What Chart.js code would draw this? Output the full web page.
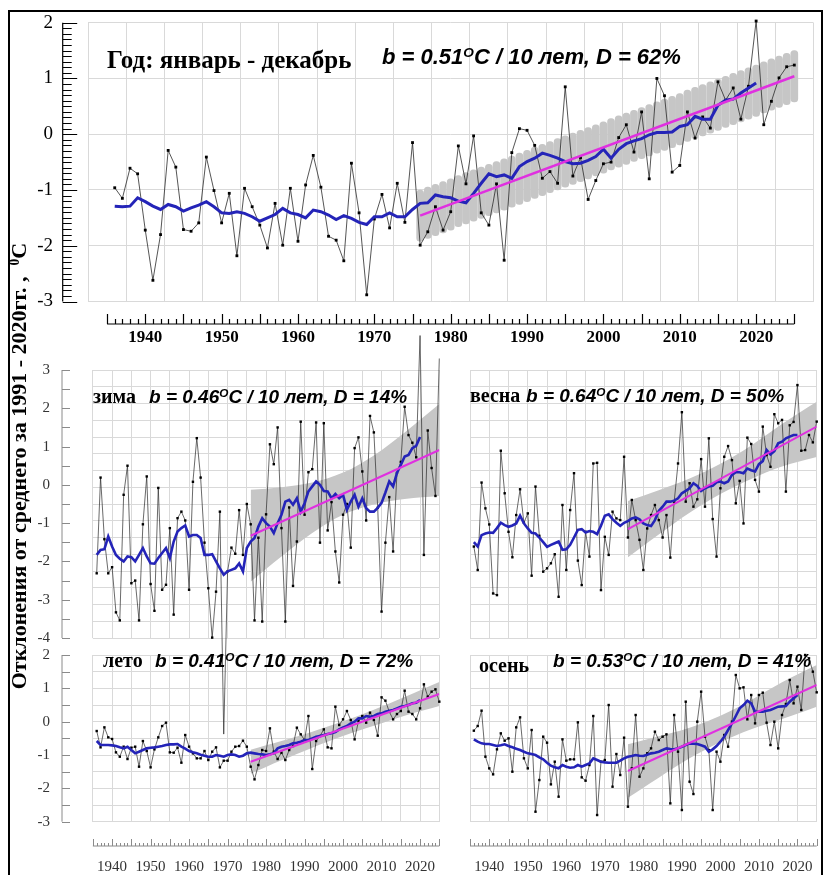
<!DOCTYPE html>
<html><head><meta charset="utf-8">
<script src="https://cdn.jsdelivr.net/npm/chart.js@4.4.1/dist/chart.umd.min.js"></script>
<style>
html,body{margin:0;padding:0;background:#fff}
#wrap{position:relative;width:824px;height:875px;overflow:hidden;background:#fff}
canvas{position:absolute}
.t{position:absolute;white-space:nowrap;line-height:1;color:#000;z-index:10}
.ser{font-family:"Liberation Serif","Times New Roman",serif;font-weight:bold}
.it{font-family:"Liberation Sans",Arial,sans-serif;font-weight:bold;font-style:italic}
.sup{font-size:0.62em;position:relative;top:-0.55em}
#frame{position:absolute;left:8px;top:10px;width:815px;height:880px;border:2px solid #000;box-sizing:border-box;z-index:20}
#ytitle{position:absolute;left:19px;top:466px;transform:translate(-50%,-50%) rotate(-90deg);white-space:nowrap;line-height:1;font-size:22px;z-index:10}
</style></head><body>
<div id="wrap">
<canvas id="cTop" width="824" height="350" style="left:0;top:0;z-index:1"></canvas>
<canvas id="cSummer" width="450" height="230" style="left:0;top:645px;z-index:2"></canvas>
<canvas id="cAutumn" width="374" height="230" style="left:450px;top:645px;z-index:2"></canvas>
<canvas id="cSpring" width="374" height="430" style="left:450px;top:320px;z-index:3"></canvas>
<canvas id="cWinter" width="450" height="430" style="left:0;top:320px;z-index:4"></canvas>

<div class="t ser" style="left:107px;top:47px;font-size:25px">Год: январь - декабрь</div>
<div class="t it" style="left:382px;top:46px;font-size:22px">b = 0.51<span class="sup">O</span>C / 10 лет, D = 62%</div>

<div class="t ser" style="left:93px;top:386px;font-size:20px">зима</div>
<div class="t it" style="left:149px;top:387px;font-size:19px">b = 0.46<span class="sup">O</span>C / 10 лет, D = 14%</div>

<div class="t ser" style="left:470px;top:385px;font-size:20px">весна</div>
<div class="t it" style="left:526px;top:386px;font-size:19px">b = 0.64<span class="sup">O</span>C / 10 лет, D = 50%</div>

<div class="t ser" style="left:103px;top:650px;font-size:20px">лето</div>
<div class="t it" style="left:155px;top:651px;font-size:19px">b = 0.41<span class="sup">O</span>C / 10 лет, D = 72%</div>

<div class="t ser" style="left:479px;top:655px;font-size:20px">осень</div>
<div class="t it" style="left:553px;top:651px;font-size:19px">b = 0.53<span class="sup">O</span>C / 10 лет, D = 41%</div>

<div id="ytitle" class="ser">Отклонения от среднего за 1991 - 2020гг. , &nbsp;<span class="sup">0</span>С</div>
<div id="frame"></div>
</div>
<script>
// ---------- data ----------
const years = [1936,1937,1938,1939,1940,1941,1942,1943,1944,1945,
 1946,1947,1948,1949,1950,1951,1952,1953,1954,1955,
 1956,1957,1958,1959,1960,1961,1962,1963,1964,1965,
 1966,1967,1968,1969,1970,1971,1972,1973,1974,1975,
 1976,1977,1978,1979,1980,1981,1982,1983,1984,1985,
 1986,1987,1988,1989,1990,1991,1992,1993,1994,1995,
 1996,1997,1998,1999,2000,2001,2002,2003,2004,2005,
 2006,2007,2008,2009,2010,2011,2012,2013,2014,2015,
 2016,2017,2018,2019,2020,2021,2022,2023,2024,2025];
const smoothYears = [1936,1937,1938,1939,1940,1941,1942,1943,1944,1945,
 1946,1947,1948,1949,1950,1951,1952,1953,1954,1955,
 1956,1957,1958,1959,1960,1961,1962,1963,1964,1965,
 1966,1967,1968,1969,1970,1971,1972,1973,1974,1975,
 1976,1977,1978,1979,1980,1981,1982,1983,1984,1985,
 1986,1987,1988,1989,1990,1991,1992,1993,1994,1995,
 1996,1997,1998,1999,2000,2001,2002,2003,2004,2005,
 2006,2007,2008,2009,2010,2011,2012,2013,2014,2015,
 2016,2017,2018,2019,2020];
const trendYears = [1976, 2025];
const pillYears = [1976,1977,1978,1979,1980,1981,1982,1983,1984,1985,
 1986,1987,1988,1989,1990,1991,1992,1993,1994,1995,
 1996,1997,1998,1999,2000,2001,2002,2003,2004,2005,
 2006,2007,2008,2009,2010,2011,2012,2013,2014,2015,
 2016,2017,2018,2019,2020,2021,2022,2023,2024,2025];
const bandYears = [1976, 1984, 1992, 2000, 2008, 2016, 2025];
const gridYears = [1935,1940,1945,1950,1955,1960,1965,1970,1975,1980,1985,1990,1995,2000,2005,2010,2015,2020,2025];
const xTickLabels = [1940,1950,1960,1970,1980,1990,2000,2010,2020];
const topYTicks = [-3,-2,-1,0,1,2];
const winterYTicks = [-4,-3,-2,-1,0,1,2,3];

// Year (January - December)
const yearAnom = [-0.96,-1.15,-0.61,-0.71,-1.72,-2.62,-1.80,-0.29,-0.59,-1.71,
 -1.74,-1.59,-0.41,-1.01,-1.59,-1.06,-2.18,-0.97,-1.30,-1.63,
 -2.04,-1.24,-1.99,-0.97,-1.92,-0.91,-0.38,-0.95,-1.83,-1.90,
 -2.27,-0.52,-1.41,-2.88,-1.52,-1.08,-1.68,-0.88,-1.58,-0.15,
 -1.99,-1.75,-1.30,-1.72,-1.39,-0.21,-0.89,-0.03,-1.41,-1.63,
 -0.89,-2.26,-0.33,0.10,0.07,-0.20,-0.79,-0.67,-0.88,0.85,
 -0.75,-0.42,-1.17,-0.83,-0.53,-0.50,-0.06,0.17,-0.32,0.40,
 -0.80,1.00,0.69,-0.68,-0.56,0.40,-0.07,0.31,0.11,0.94,
 0.61,0.83,0.27,0.86,2.03,0.17,0.59,1.01,1.21,1.24];
const yearSmooth = [-1.29,-1.30,-1.29,-1.14,-1.21,-1.29,-1.35,-1.26,-1.30,-1.38,
 -1.32,-1.27,-1.21,-1.30,-1.41,-1.42,-1.39,-1.42,-1.48,-1.56,
 -1.50,-1.44,-1.33,-1.41,-1.44,-1.50,-1.36,-1.39,-1.45,-1.53,
 -1.46,-1.51,-1.58,-1.62,-1.48,-1.48,-1.41,-1.48,-1.48,-1.35,
 -1.24,-1.23,-1.09,-1.12,-1.14,-1.20,-1.23,-1.06,-0.88,-0.71,
 -0.76,-0.73,-0.79,-0.58,-0.49,-0.43,-0.34,-0.38,-0.43,-0.49,
 -0.53,-0.52,-0.47,-0.40,-0.27,-0.43,-0.27,-0.17,-0.12,-0.08,
 -0.01,0.03,0.03,0.04,0.14,0.17,0.32,0.27,0.27,0.52,
 0.61,0.63,0.74,0.83,0.92];
const yearTrend = [-1.46, 1.04];
const yearBandLow = [-1.92,-1.87,-1.82,-1.77,-1.72,-1.66,-1.61,-1.56,-1.51,-1.46,
 -1.41,-1.36,-1.31,-1.26,-1.21,-1.15,-1.10,-1.05,-1.00,-0.95,
 -0.90,-0.85,-0.80,-0.75,-0.70,-0.64,-0.59,-0.54,-0.49,-0.44,
 -0.39,-0.34,-0.29,-0.24,-0.19,-0.13,-0.08,-0.03,0.02,0.07,
 0.12,0.17,0.22,0.27,0.32,0.38,0.43,0.48,0.53,0.58];
const yearBandHigh = [-1.00,-0.95,-0.90,-0.85,-0.80,-0.74,-0.69,-0.64,-0.59,-0.54,
 -0.49,-0.44,-0.39,-0.34,-0.29,-0.23,-0.18,-0.13,-0.08,-0.03,
 0.02,0.07,0.12,0.17,0.22,0.28,0.33,0.38,0.43,0.48,
 0.53,0.58,0.63,0.68,0.73,0.79,0.84,0.89,0.94,0.99,
 1.04,1.09,1.14,1.19,1.24,1.30,1.35,1.40,1.45,1.50];

// Winter
const winterAnom = [-2.31,0.19,-1.42,-2.31,-2.15,-3.33,-3.54,-0.26,0.50,-2.57,
 -2.50,-3.54,-1.03,0.22,-2.59,-3.29,-0.08,-2.74,-2.61,-1.13,
 -3.39,-0.87,-0.70,-0.93,-2.74,0.08,1.22,0.19,-1.51,-2.70,
 -3.99,-2.79,-0.70,-6.51,-2.26,-1.64,-1.80,-0.66,-1.83,-0.50,
 -1.03,-3.54,-1.38,-3.57,-0.77,1.06,0.54,1.50,-1.13,-3.57,
 -0.59,-2.64,-1.48,1.65,-0.78,0.33,0.41,1.63,-1.51,1.61,
 -1.19,-0.45,-1.74,-2.55,-0.78,-0.50,-1.64,0.96,1.24,0.35,
 -0.93,1.80,1.37,-0.60,-3.31,-1.51,-0.32,-1.74,0.31,0.60,
 2.04,1.30,1.10,0.72,3.90,-1.83,1.42,0.44,-0.29,3.30];
const winterSmooth = [-1.83,-1.70,-1.68,-1.35,-1.61,-1.83,-1.93,-2.00,-1.87,-1.89,
 -2.00,-1.83,-1.65,-1.87,-2.05,-2.06,-1.91,-1.78,-1.65,-1.91,
 -1.48,-1.22,-1.13,-1.06,-1.35,-1.31,-1.31,-1.39,-1.83,-1.83,
 -1.81,-2.00,-2.18,-2.35,-2.26,-2.22,-2.18,-2.05,-2.26,-1.65,
 -1.48,-1.39,-1.09,-0.87,-1.00,-1.09,-1.26,-1.00,-0.78,-0.44,
 -0.39,-0.52,-0.35,-0.70,-0.48,-0.17,-0.04,0.09,0.00,-0.16,
 -0.17,-0.35,-0.24,-0.35,-0.26,-0.65,-0.44,-0.26,-0.57,-0.35,
 -0.61,-0.70,-0.70,-0.60,-0.47,-0.20,0.09,-0.04,0.31,0.52,
 0.74,0.78,0.96,1.02,1.25];
const winterTrend = [-1.33, 0.91];
const winterBandHigh = [-0.13,-0.06,0.06,0.32,0.77,1.37,2.11];
const winterBandLow = [-2.53,-1.87,-1.26,-0.78,-0.51,-0.37,-0.29];

// Spring
const springAnom = [-2.27,-2.97,-0.36,-1.13,-1.61,-3.67,-3.72,0.59,-0.68,-1.83,
 -2.59,-1.33,-0.56,-1.56,-1.28,-3.14,-0.48,-1.95,-3.02,-2.92,
 -2.77,-2.50,-3.77,-1.03,-2.97,-1.18,-0.08,-2.69,-3.42,-1.83,
 -2.57,0.21,0.23,-3.57,-1.98,-2.52,-1.23,-1.43,-1.48,0.41,
 -2.00,-0.88,-1.48,-2.07,-2.97,-1.73,-1.33,-1.03,-1.48,-2.00,
 -1.33,-2.60,-0.93,0.21,1.74,-0.93,-0.38,-1.08,-0.86,0.34,
 -1.08,0.96,-1.45,-2.57,-0.53,0.41,0.73,0.31,-0.98,-0.31,
 -1.58,0.98,0.79,-0.28,-0.63,1.31,0.46,0.11,1.68,1.41,
 1.51,-0.63,1.35,1.45,2.55,0.59,0.61,1.06,0.84,1.46];
const springSmooth = [-2.14,-2.27,-1.93,-1.88,-1.85,-1.86,-1.72,-1.56,-1.63,-1.68,
 -1.64,-1.58,-1.35,-1.58,-1.73,-1.86,-1.88,-2.00,-2.14,-2.28,
 -2.22,-2.17,-2.12,-2.37,-2.35,-2.22,-2.00,-1.77,-1.75,-1.85,
 -1.81,-1.83,-1.90,-1.65,-1.35,-1.31,-1.45,-1.56,-1.65,-1.56,
 -1.51,-1.43,-1.40,-1.46,-1.58,-1.63,-1.66,-1.48,-1.21,-1.08,
 -0.93,-0.93,-0.90,-0.83,-0.68,-0.61,-0.53,-0.38,-0.46,-0.61,
 -0.53,-0.48,-0.46,-0.35,-0.33,-0.38,-0.33,-0.13,-0.05,-0.05,
 -0.08,0.06,0.01,-0.03,0.19,0.28,0.61,0.48,0.58,0.81,
 0.86,0.96,1.01,1.06,1.06];
const springTrend = [-1.75, 1.31];
const springBandHigh = [-0.91,-0.59,-0.24,0.20,0.75,1.39,2.05];
const springBandLow = [-2.59,-1.91,-1.26,-0.70,-0.25,0.12,0.40];

// Summer
const summerAnom = [-0.28,-0.77,-0.17,-0.47,-0.52,-0.92,-1.05,-0.75,-1.12,-0.78,
 -0.75,-1.35,-0.58,-0.88,-1.37,-0.83,-0.47,-0.13,-0.03,-0.92,
 -0.93,-0.78,-1.23,-0.40,-0.75,-0.95,-1.10,-1.10,-0.88,-1.15,
 -0.90,-0.77,-1.37,-1.17,-1.17,-0.90,-0.75,-0.73,-0.57,-0.75,
 -1.35,-1.73,-1.30,-0.85,-0.88,-0.20,-0.90,-1.12,-0.93,-1.15,
 -0.85,-0.73,-0.18,-0.38,-0.55,0.17,-1.42,-0.58,-0.43,-0.23,
 -0.77,-0.80,0.45,-0.10,0.07,0.32,0.05,-0.53,0.02,0.17,
 -0.03,0.27,0.05,-0.42,0.73,0.63,0.30,0.07,0.23,0.32,
 0.93,0.30,0.23,0.07,0.40,1.12,0.75,0.90,0.97,0.60];
const summerSmooth = [-0.58,-0.70,-0.70,-0.70,-0.71,-0.73,-0.77,-0.80,-0.75,-0.85,
 -0.95,-0.90,-0.85,-0.80,-0.78,-0.77,-0.75,-0.73,-0.70,-0.68,
 -0.68,-0.67,-0.75,-0.81,-0.88,-0.92,-0.95,-0.99,-1.02,-1.05,
 -1.05,-1.00,-1.02,-1.05,-1.00,-0.98,-1.00,-1.05,-1.02,-0.95,
 -0.93,-0.95,-0.97,-0.98,-1.00,-0.98,-0.95,-0.80,-0.75,-0.73,
 -0.70,-0.65,-0.63,-0.60,-0.55,-0.55,-0.50,-0.45,-0.43,-0.40,
 -0.37,-0.35,-0.31,-0.23,-0.17,-0.13,-0.05,0.00,0.10,0.10,
 0.17,0.15,0.17,0.23,0.25,0.30,0.33,0.35,0.40,0.45,
 0.47,0.50,0.55,0.57,0.65];
const summerTrend = [-1.20, 0.83];
const summerBandHigh = [-0.84,-0.58,-0.30,0.01,0.36,0.74,1.19];
const summerBandLow = [-1.56,-1.16,-0.78,-0.43,-0.12,0.18,0.47];

// Autumn
const autumnAnom = [-0.27,-0.13,0.33,-1.05,-1.40,-1.58,-0.83,-0.35,-0.57,-0.50,
 -1.50,-0.17,0.13,-1.10,-1.40,-0.25,-2.70,-1.75,-0.45,-0.63,
 -1.88,-1.20,-2.25,-0.53,-1.17,-1.13,-1.13,-0.02,-1.67,-1.77,
 -1.30,0.17,-2.80,-1.20,-1.15,0.50,-1.95,-0.97,-1.60,-0.48,
 -2.55,-1.40,0.20,-1.65,-1.40,-0.95,-0.80,-0.30,-0.55,-0.45,
 -0.38,-2.45,0.20,-0.90,-2.65,0.60,-1.80,-2.17,0.00,0.90,
 -0.45,-0.85,-2.65,-0.90,-1.20,-0.40,-0.75,0.00,1.40,1.00,
 1.03,0.07,0.80,-0.05,0.80,0.87,-0.03,-0.70,0.00,-0.80,
 0.20,0.53,1.25,0.55,1.05,0.35,2.00,1.90,1.50,0.88];
const autumnSmooth = [-0.53,-0.60,-0.65,-0.67,-0.67,-0.70,-0.73,-0.71,-0.68,-0.73,
 -0.77,-0.81,-0.85,-0.90,-0.95,-0.97,-1.00,-1.07,-1.13,-1.23,
 -1.32,-1.37,-1.40,-1.30,-1.35,-1.38,-1.37,-1.30,-1.35,-1.30,
 -1.25,-1.10,-1.15,-1.20,-1.22,-1.23,-1.23,-1.23,-1.17,-1.10,
 -1.05,-1.03,-1.00,-1.02,-1.03,-0.99,-0.95,-0.93,-0.90,-0.85,
 -0.80,-0.82,-0.83,-0.80,-0.75,-0.70,-0.65,-0.66,-0.67,-0.71,
 -0.75,-0.90,-0.83,-0.73,-0.60,-0.45,-0.25,-0.05,0.17,0.40,
 0.50,0.63,0.55,0.30,0.30,0.30,0.33,0.35,0.40,0.45,
 0.46,0.47,0.60,0.70,0.80];
const autumnTrend = [-1.48, 1.10];
const autumnBandHigh = [-0.68,-0.44,-0.18,0.18,0.65,1.18,1.70];
const autumnBandLow = [-2.28,-1.68,-1.10,-0.62,-0.23,0.08,0.45];

// ---------- drawing ----------
Chart.defaults.font.family = '"Liberation Serif","Times New Roman",serif';
const GRID = '#d9d9d9';
const BLUE = '#2424b8';
const MAGENTA = '#e030e0';
const BAND = '#c6c6c6';
const THIN = '#2a2a2a';
const NONE = 'rgba(0,0,0,0)';
const pts = (xs, ys) => ys.map((y, i) => ({x: xs[i], y}));

function seriesSets(o) {
  const ds = [];
  if (o.pills) {
    ds.push({type:'bar', data: o.pills.years.map((x, i) => ({x, y:[o.pills.low[i], o.pills.high[i]]})),
      backgroundColor:BAND, barThickness:7, borderRadius:4, borderSkipped:false, order:5, yAxisID:'y', clip:false});
  }
  if (o.band) {
    ds.push({type:'line', data: pts(bandYears, o.band.high), fill:'+1', backgroundColor:BAND,
      borderColor:NONE, borderWidth:0, pointRadius:0, tension:0.35, order:5, yAxisID:'y'});
    ds.push({type:'line', data: pts(bandYears, o.band.low), fill:false,
      borderColor:NONE, borderWidth:0, pointRadius:0, tension:0.35, order:6, yAxisID:'y'});
  }
  ds.push({type:'line', data: pts(years, o.anom), borderColor:THIN, borderWidth:o.thin,
    pointStyle:'rect', pointRadius:o.pr, pointBackgroundColor:'#000', pointBorderWidth:0,
    clip:false, order:3, yAxisID:'y'});
  ds.push({type:'line', data: pts(smoothYears, o.smooth), borderColor:BLUE, borderWidth:o.blueW,
    pointRadius:0, order:2, yAxisID:'y'});
  ds.push({type:'line', data: pts(trendYears, o.trend), borderColor:MAGENTA, borderWidth:o.magW,
    pointRadius:0, order:1, yAxisID:'y'});
  return ds;
}

function rulerPlugin(r) {
  return {id:'ruler', afterDraw(chart) {
    const c = chart.ctx; c.save(); c.lineWidth = r.lw; c.strokeStyle = r.color;
    if (r.y) {
      const s = chart.scales.y, a = r.y;
      c.beginPath();
      c.moveTo(a.x, s.getPixelForValue(a.min)); c.lineTo(a.x, s.getPixelForValue(a.max));
      const n = Math.round((a.max - a.min) / a.step);
      for (let i = 0; i <= n; i++) {
        const v = a.min + i * a.step, p = Math.round(s.getPixelForValue(v)) + 0.5;
        const major = Math.abs(v - Math.round(v)) < 1e-6;
        c.moveTo(a.x, p); c.lineTo(a.x + (major ? a.major : a.minor), p);
      }
      c.stroke();
    }
    if (r.x) {
      const s = chart.scales.x, a = r.x;
      c.beginPath();
      c.moveTo(s.getPixelForValue(a.from), a.y); c.lineTo(s.getPixelForValue(a.to), a.y);
      for (let yr = a.from; yr <= a.to; yr++) {
        const p = Math.round(s.getPixelForValue(yr)) + 0.5;
        c.moveTo(p, a.y); c.lineTo(p, a.y - (yr % 5 === 0 ? a.major : a.minor));
      }
      c.stroke();
    }
    c.restore();
  }};
}

// label offsets are made with invisible tick marks (tickLength) so they do not add layout padding
function xScale(o) {
  return {type:'linear', min:1935, max:2025,
    afterBuildTicks: s => { s.ticks = gridYears.map(v => ({value:v})); },
    ticks:{display:o.labels, autoSkip:false, maxRotation:0, minRotation:0, padding:0,
      color:o.color || '#000', font:o.font, callback: v => xTickLabels.includes(v) ? String(v) : ''},
    grid:{color:GRID, lineWidth:1, drawTicks:o.labels, tickLength:o.off || 0, tickColor:NONE},
    border:{display:false},
    afterFit: s => { s.height = o.h; }};
}

function makeChart(id, o) {
  return new Chart(document.getElementById(id), {
    type:'line',
    data:{datasets: seriesSets(o)},
    options:{responsive:false, animation:false, events:[],
      layout:{padding:o.pad},
      plugins:{legend:{display:false}, tooltip:{enabled:false}},
      scales:o.scales},
    plugins:[rulerPlugin(o.ruler)]
  });
}

// Top panel: year
makeChart('cTop', {
  anom:yearAnom, smooth:yearSmooth, trend:yearTrend, thin:0.8, pr:2, blueW:3, magW:2.5,
  pills:{years:pillYears, low:yearBandLow, high:yearBandHigh},
  pad:{top:22.7, right:10.6, left:0, bottom:0},
  scales:{
    x: xScale({labels:true, off:26, h:48.5, color:'#000', font:{size:17, weight:'bold'}}),
    y: {type:'linear', min:-3, max:2,
      afterBuildTicks: s => { s.ticks = topYTicks.map(v => ({value:v})); },
      ticks:{padding:0, color:'#000', font:{size:19}},
      grid:{color:GRID, drawTicks:true, tickLength:35, tickColor:NONE}, border:{display:false},
      afterFit: s => { s.width = 88; }}
  },
  ruler:{lw:1.2, color:'#000', y:{x:62.7, min:-3, max:2, step:0.1, minor:9, major:14.5},
         x:{y:324, from:1935, to:2025, minor:5, major:10}}
});

// Winter
makeChart('cWinter', {
  anom:winterAnom, smooth:winterSmooth, trend:winterTrend, thin:0.7, pr:1.7, blueW:2.6, magW:2,
  band:{high:winterBandHigh, low:winterBandLow},
  pad:{top:50, right:10.7, left:0, bottom:112},
  scales:{
    x: xScale({labels:false, h:0}),
    y: {type:'linear', min:-4, max:3,
      afterBuildTicks: s => { s.ticks = winterYTicks.map(v => ({value:v})); },
      ticks:{padding:0, color:'#333', font:{size:15}},
      grid:{display:true, drawOnChartArea:false, drawTicks:true, tickLength:42.85, tickColor:NONE},
      border:{display:false},
      afterFit: s => { s.width = 92.85; }},
    yg: {type:'linear', position:'right', min:0, max:16, ticks:{display:false, stepSize:1},
      grid:{color:GRID, drawTicks:false}, border:{display:false},
      afterFit: s => { s.width = 0; }}
  },
  ruler:{lw:1, color:'#8a8a8a', y:{x:62, min:-4, max:3, step:0.5, minor:8, major:8}}
});

// Spring
makeChart('cSpring', {
  anom:springAnom, smooth:springSmooth, trend:springTrend, thin:0.7, pr:1.7, blueW:2.6, magW:2,
  band:{high:springBandHigh, low:springBandLow},
  pad:{top:50, right:7.3, left:0, bottom:112},
  scales:{
    x: xScale({labels:false, h:0}),
    y: {type:'linear', min:-5, max:3, ticks:{display:false, stepSize:0.5},
      grid:{color:GRID, drawTicks:false}, border:{display:false},
      afterFit: s => { s.width = 20; }}
  },
  ruler:{lw:1, color:'#8a8a8a'}
});

// Summer
makeChart('cSummer', {
  anom:summerAnom, smooth:summerSmooth, trend:summerTrend, thin:0.7, pr:1.7, blueW:2.6, magW:2,
  band:{high:summerBandHigh, low:summerBandLow},
  pad:{top:10, right:10.7, left:0, bottom:0},
  scales:{
    x: xScale({labels:true, off:36.3, h:53.3, color:'#333', font:{size:15}}),
    y: {type:'linear', min:-3, max:2,
      ticks:{stepSize:0.5, autoSkip:false, padding:0, color:'#333', font:{size:15},
        callback: v => Number.isInteger(v) ? String(v) : ''},
      grid:{color:GRID, drawTicks:true, tickLength:42.85, tickColor:NONE}, border:{display:false},
      afterFit: s => { s.width = 92.85; }}
  },
  ruler:{lw:1, color:'#8a8a8a', y:{x:62, min:-3, max:2, step:0.5, minor:8, major:8},
         x:{y:201, from:1935, to:2025, minor:3, major:7}}
});

// Autumn
makeChart('cAutumn', {
  anom:autumnAnom, smooth:autumnSmooth, trend:autumnTrend, thin:0.7, pr:1.7, blueW:2.6, magW:2,
  band:{high:autumnBandHigh, low:autumnBandLow},
  pad:{top:10, right:7.3, left:0, bottom:0},
  scales:{
    x: xScale({labels:true, off:36.3, h:53.3, color:'#333', font:{size:15}}),
    y: {type:'linear', min:-3, max:2, ticks:{display:false, stepSize:0.5},
      grid:{color:GRID, drawTicks:false}, border:{display:false},
      afterFit: s => { s.width = 20; }}
  },
  ruler:{lw:1, color:'#8a8a8a', x:{y:201, from:1935, to:2025, minor:3, major:7}}
});
</script>
</body></html>
